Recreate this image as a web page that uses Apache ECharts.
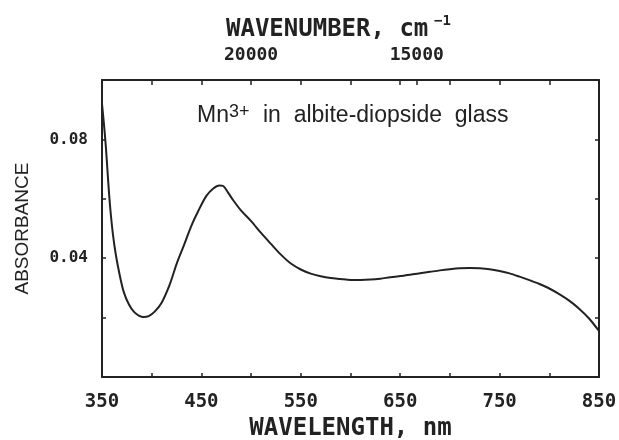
<!DOCTYPE html>
<html>
<head>
<meta charset="utf-8">
<script src="https://cdn.jsdelivr.net/npm/echarts@6/dist/echarts.min.js"></script>
<style>html,body{margin:0;padding:0;background:#fff}#c{width:619px;height:440px}</style>
</head>
<body>
<div id="c"></div>
<script>
// Data
const wavelength = [350,352,354,356,358,361,364,368,372,377,382,387,392,397,403,410,418,425,432,440,447,455,462,468,472,477,482,490,500,510,520,530,540,550,560,570,580,590,600,610,620,630,640,650,660,670,680,690,700,710,720,730,740,750,760,770,780,790,800,810,820,830,840,850];
const absorbance = [0.092,0.085,0.077,0.067,0.058,0.048,0.041,0.034,0.0285,0.0245,0.022,0.0207,0.0202,0.0205,0.022,0.025,0.031,0.038,0.044,0.051,0.056,0.061,0.0635,0.0645,0.0643,0.062,0.0595,0.056,0.0525,0.0485,0.0448,0.0412,0.0382,0.0362,0.0348,0.0339,0.0333,0.033,0.0327,0.0327,0.0328,0.0331,0.0336,0.034,0.0344,0.0349,0.0354,0.0359,0.0363,0.0366,0.0367,0.0366,0.0363,0.0357,0.0349,0.0338,0.0326,0.0313,0.0298,0.0279,0.0257,0.0230,0.0197,0.0155];
const wavelengthLabels = [350,450,550,650,750,850];
const wavelengthTicks = [350,400,450,500,550,600,650,700,750,800,850];
const wavenumberLabels = [20000,15000];
const absorbanceLabels = [0.04,0.08];

const ink = '#222';
const mono = '"DejaVu Sans Mono", monospace';
const sans = '"Liberation Sans", Arial, sans-serif';
const wnPos = wavenumberLabels.map(w => 1e7 / w);
const topTicks = wavelengthTicks.concat(wnPos).sort((a, b) => a - b);
const pairs = wavelength.map((w, i) => [w, absorbance[i]]);

const chart = echarts.init(document.getElementById('c'));
chart.setOption({
  backgroundColor: '#fff',
  animation: false,
  grid: { left: 102, right: 20, top: 80, bottom: 63, outerBoundsMode: 'none', containLabel: false },
  title: [
    { text: 'WAVENUMBER, cm', left: 226, top: 18, padding: 0,
      textStyle: { fontFamily: mono, fontWeight: 'bold', fontSize: 24, color: ink } },
    { text: '−1', left: 434, top: 14, padding: 0,
      textStyle: { fontFamily: mono, fontWeight: 'bold', fontSize: 14, color: ink } },
    { text: 'Mn', left: 197, top: 104, padding: 0,
      textStyle: { fontFamily: sans, fontWeight: 'normal', fontSize: 23, color: ink } },
    { text: '3+', left: 229, top: 103, padding: 0,
      textStyle: { fontFamily: sans, fontWeight: 'normal', fontSize: 18, color: ink } },
    { text: 'in  albite-diopside  glass', left: 263, top: 104, padding: 0,
      textStyle: { fontFamily: sans, fontWeight: 'normal', fontSize: 23, color: ink } }
  ],
  xAxis: [
    { type: 'value', position: 'bottom', min: 350, max: 850, interval: 50,
      name: 'WAVELENGTH, nm', nameLocation: 'middle', nameGap: 40,
      nameTextStyle: { fontFamily: mono, fontWeight: 'bold', fontSize: 24, color: ink },
      axisLine: { onZero: false, lineStyle: { color: ink, width: 2 } },
      axisTick: { inside: true, length: 4, lineStyle: { color: ink, width: 1.5 } },
      axisLabel: { margin: 16, fontFamily: mono, fontWeight: 'bold', fontSize: 19, color: ink,
        formatter: v => wavelengthLabels.includes(v) ? String(v) : '' },
      splitLine: { show: false } },
    { type: 'value', position: 'top', min: 350, max: 850,
      axisLine: { onZero: false, lineStyle: { color: ink, width: 2 } },
      axisTick: { inside: true, length: 5, customValues: topTicks, lineStyle: { color: ink, width: 1.5 } },
      axisLabel: { customValues: wnPos, margin: 16, fontFamily: mono, fontWeight: 'bold', fontSize: 18, color: ink,
        formatter: v => String(Math.round(1e7 / v / 1000) * 1000) },
      splitLine: { show: false } }
  ],
  yAxis: [
    { type: 'value', position: 'left', min: 0, max: 0.1, interval: 0.02,
      name: 'ABSORBANCE', nameLocation: 'middle', nameGap: 70,
      nameTextStyle: { fontFamily: sans, fontSize: 19, color: ink },
      axisLine: { show: true, onZero: false, lineStyle: { color: ink, width: 2 } },
      axisTick: { show: true, inside: true, length: 4, lineStyle: { color: ink, width: 1.5 } },
      axisLabel: { margin: 14, fontFamily: mono, fontWeight: 'bold', fontSize: 16, color: ink,
        formatter: v => absorbanceLabels.some(a => Math.abs(a - v) < 1e-9) ? v.toFixed(2) : '' },
      splitLine: { show: false } },
    { type: 'value', position: 'right', min: 0, max: 0.1, interval: 0.02,
      axisLine: { show: true, onZero: false, lineStyle: { color: ink, width: 2 } },
      axisTick: { show: true, inside: true, length: 4, lineStyle: { color: ink, width: 1.5 } },
      axisLabel: { show: false }, splitLine: { show: false } }
  ],
  series: [{
    type: 'line', xAxisIndex: 0, yAxisIndex: 0, data: pairs,
    smooth: 0.3, showSymbol: false, clip: true,
    lineStyle: { color: ink, width: 2 }
  }]
});
</script>
</body>
</html>
